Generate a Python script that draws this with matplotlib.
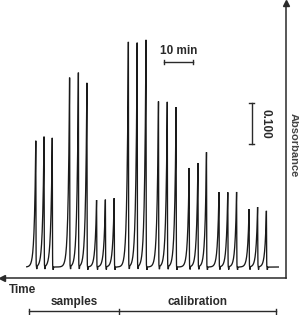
import numpy as np
import matplotlib
matplotlib.use("Agg")
import matplotlib.pyplot as plt

plt.rcParams['font.family'] = ['Liberation Sans', 'DejaVu Sans']

# Peak retention times (min, time increases to the left) and heights (AU)
peak_times = [88.1, 85.2, 82.3, 76.2, 73.1, 70.1, 66.7, 63.6, 60.5,
              55.5, 52.4, 49.3, 44.9, 41.8, 38.7, 34.1, 31.0, 28.0,
              23.6, 20.5, 17.4, 13.0, 10.0, 6.9]
peak_heights = [0.307, 0.317, 0.315, 0.461, 0.473, 0.449, 0.163, 0.164, 0.168,
                0.548, 0.546, 0.554, 0.403, 0.402, 0.390, 0.241, 0.253, 0.280,
                0.182, 0.182, 0.183, 0.141, 0.146, 0.137]
trace_start, trace_end = 2.7, 91.3
group_labels = ["samples", "calibration"]
group_bounds = [90.6, 58.7, 3.4]
time_bar = (42.85, 32.85)      # 10 min
abs_bar = (0.30, 0.40)         # 0.100 AU

W, H = 299, 315
fig = plt.figure(figsize=(W / 100, H / 100), dpi=100)
L, R, T, B = 2, 286, 3.3, 277.7
ax = fig.add_axes([L / W, (H - B) / H, (R - L) / W, (B - T) / H])
ax.set_xlim(100, 0)
ax.set_ylim(-0.0261, 0.6432)
for s in ['top', 'left']:
    ax.spines[s].set_visible(False)
for s in ['bottom', 'right']:
    ax.spines[s].set_color('#2a2a2a')
    ax.spines[s].set_linewidth(1.1)
ax.set_xticks([])
ax.set_yticks([])

# arrowheads
ax.plot([0], [0], marker='<', markersize=5, color='#2a2a2a',
        transform=ax.transAxes, clip_on=False)
ax.plot([1], [1], marker='^', markersize=5, color='#2a2a2a',
        transform=ax.transAxes, clip_on=False)

# chromatogram trace
t = np.arange(trace_start, trace_end, 0.004)
y = np.zeros_like(t)
for tp, h in zip(peak_times, peak_heights):
    dt = t - tp
    shape = np.where(dt < 0, np.exp(-0.5 * (dt / 0.05) ** 2),
                     np.exp(-np.clip(dt, 0, None) / 0.5))
    y += h * shape
    y -= 0.007 * np.exp(-0.5 * ((dt + 0.35) / 0.05) ** 2)
ax.plot(t, y, color='#1a1a1a', lw=0.95, solid_joinstyle='miter')

tc = '#2a2a2a'
# time scale bar
ax.plot(time_bar, [0.5, 0.5], color=tc, lw=1.0)
for xb in time_bar:
    ax.plot([xb, xb], [0.494, 0.506], color=tc, lw=1.0)
ax.text(sum(time_bar) / 2, 0.5276, "10 min", ha='center', va='center',
        fontsize=8.5, fontweight='bold', color=tc)

# absorbance scale bar
ax.plot([12.08, 12.08], abs_bar, color=tc, lw=1.0)
for yb in abs_bar:
    ax.plot([12.9, 11.26], [yb, yb], color=tc, lw=1.0)
ax.text(7.39, sum(abs_bar) / 2, "0.100", ha='center', va='center',
        rotation=-90, fontsize=8.5, fontweight='bold', color=tc)

# axis labels
ax.text(92.7, -0.0561, "Time", ha='center', va='center', fontsize=8.5,
        fontweight='bold', color=tc, clip_on=False)
fig.text(293.5 / W, 1 - 145 / H, "Absorbance", ha='center', va='center',
         rotation=-90, fontsize=8, fontweight='bold', color='#444444')

# group bracket
yb = -0.108
ax.plot([group_bounds[0], group_bounds[-1]], [yb, yb], color=tc, lw=1.0,
        clip_on=False)
for xb in group_bounds:
    ax.plot([xb, xb], [yb - 0.006, yb + 0.006], color=tc, lw=1.0, clip_on=False)
for i, lab in enumerate(group_labels):
    xc = (group_bounds[i] + group_bounds[i + 1]) / 2
    ax.text(xc, -0.0846, lab, ha='center', va='center', fontsize=8.5,
            fontweight='bold', color=tc, clip_on=False)

fig.savefig("out.png", dpi=100)
